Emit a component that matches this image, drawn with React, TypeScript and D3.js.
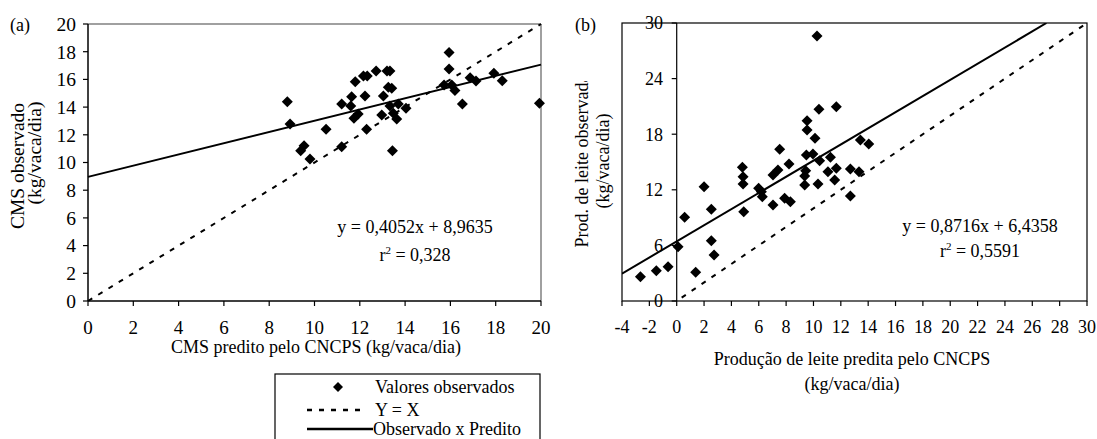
import React from "react";
import * as d3 from "d3";

// Panel (a): CMS predito (x) vs observado (y)
const cmsPred = [8.8, 8.92, 9.39, 9.54, 9.8, 10.51, 11.2, 11.2, 11.64, 11.6, 11.8, 11.74, 11.93, 12.16, 12.33, 12.23, 12.3, 12.72, 13.2, 13.33, 13.04, 12.97, 13.26, 13.41, 13.33, 13.7, 13.48, 13.63, 14.04, 13.44, 15.94, 15.94, 15.72, 16.06, 16.2, 16.53, 16.87, 17.13, 17.92, 18.29, 19.93];
const cmsObs = [14.39, 12.78, 10.85, 11.21, 10.25, 12.4, 14.22, 11.14, 14.75, 14.08, 15.83, 13.19, 13.5, 16.25, 16.25, 14.8, 12.4, 16.6, 16.6, 16.6, 14.8, 13.43, 15.43, 15.36, 14.08, 14.22, 13.55, 13.14, 13.91, 10.85, 17.95, 16.75, 15.6, 15.6, 15.19, 14.22, 16.12, 15.88, 16.44, 15.9, 14.27];

// Panel (b): Produção de leite predita (x) vs observada (y)
const leitePred = [-2.65, -1.49, -0.63, 0.1, 0.58, 1.39, 2.0, 2.53, 2.53, 2.73, 4.8, 4.85, 4.85, 4.9, 5.99, 6.19, 6.26, 7.04, 7.04, 7.4, 7.53, 8.21, 7.89, 8.31, 9.36, 9.36, 9.43, 9.48, 9.53, 9.53, 9.96, 10.11, 10.26, 10.4, 10.33, 10.45, 11.67, 11.06, 11.24, 11.55, 11.67, 12.7, 13.33, 12.7, 13.43, 14.04];
const leiteObs = [2.62, 3.27, 3.7, 5.86, 9.03, 3.1, 12.34, 9.89, 6.51, 4.96, 14.43, 13.41, 12.63, 9.64, 12.16, 11.8, 11.26, 10.36, 13.6, 14.14, 16.37, 14.78, 11.08, 10.72, 12.52, 13.49, 14.06, 15.75, 18.45, 19.46, 15.86, 17.55, 28.6, 20.68, 12.63, 15.14, 20.97, 13.95, 15.5, 13.06, 14.32, 14.24, 13.95, 11.33, 17.37, 16.94];

const ticksA = [0, 2, 4, 6, 8, 10, 12, 14, 16, 18, 20];
const ticksBX = [-4, -2, 0, 2, 4, 6, 8, 10, 12, 14, 16, 18, 20, 22, 24, 26, 28, 30];
const ticksBY = [0, 6, 12, 18, 24, 30];

const regA = { slope: 0.4052, intercept: 8.9635 };
const regB = { slope: 0.8716, intercept: 6.4358 };

const FONT = "Liberation Serif";

function diamond(cx: number, cy: number, r: number) {
  return `M${cx},${cy - r}L${cx + r},${cy}L${cx},${cy + r}L${cx - r},${cy}Z`;
}

export default function App() {
  // Panel (a) scales
  const xa = d3.scaleLinear().domain([0, 20]).range([88, 541]);
  const ya = d3.scaleLinear().domain([0, 20]).range([301, 24]);
  // Panel (b) scales
  const xb = d3.scaleLinear().domain([-4, 30]).range([622, 1087]);
  const yb = d3.scaleLinear().domain([0, 30]).range([301, 23]);

  const line = d3.line<[number, number]>();

  const regAPts: [number, number][] = [0, 20].map((x) => [xa(x), ya(regA.slope * x + regA.intercept)]);
  const idAPts: [number, number][] = [0, 20].map((x) => [xa(x), ya(x)]);
  const xEndB = (30 - regB.intercept) / regB.slope;
  const regBPts: [number, number][] = [-4, xEndB].map((x) => [xb(x), yb(regB.slope * x + regB.intercept)]);
  const idBPts: [number, number][] = [0, 30].map((x) => [xb(x), yb(x)]);

  const ts: React.CSSProperties = { fontFamily: FONT };

  return (
    <svg width={1097} height={439} style={{ position: "absolute", left: 0, top: 0, background: "#fff", fontFamily: FONT }}>
      <defs>
        <clipPath id="clipB">
          <rect x={622} y={23} width={465} height={278} />
        </clipPath>
        <clipPath id="clipYB">
          <rect x={560} y={81} width={60} height={260} />
        </clipPath>
      </defs>
      <rect x={0} y={0} width={1097} height={439} fill="#fff" />

      {/* ---------- Panel (a) ---------- */}
      <text style={ts} x={10} y={31} fontSize={18}>(a)</text>
      <line x1={88} y1={24} x2={541} y2={24} stroke="#808080" strokeWidth={1.5} />
      <line x1={541} y1={24} x2={541} y2={301} stroke="#808080" strokeWidth={1.5} />
      <line x1={88} y1={24} x2={88} y2={301} stroke="#000" strokeWidth={1.5} />
      <line x1={88} y1={301} x2={541} y2={301} stroke="#000" strokeWidth={1.5} />
      {ticksA.map((t) => (
        <g key={"ya" + t}>
          <line x1={83} x2={88} y1={ya(t)} y2={ya(t)} stroke="#000" strokeWidth={1.2} />
          <text style={ts} x={76} y={ya(t)} dy="0.35em" textAnchor="end" fontSize={19.5}>{t}</text>
        </g>
      ))}
      {ticksA.map((t) => (
        <g key={"xa" + t}>
          <line x1={xa(t)} x2={xa(t)} y1={301} y2={306} stroke="#000" strokeWidth={1.2} />
          <text style={ts} x={xa(t)} y={334} textAnchor="middle" fontSize={19}>{t}</text>
        </g>
      ))}
      <text style={ts} x={316} y={353} textAnchor="middle" fontSize={18}>CMS predito pelo CNCPS (kg/vaca/dia)</text>
      <text style={ts} transform={`translate(24,166) rotate(-90)`} textAnchor="middle" fontSize={19.5}>CMS observado</text>
      <text style={ts} transform={`translate(41,153) rotate(-90)`} textAnchor="middle" fontSize={19.5}>(kg/vaca/dia)</text>

      <path d={line(idAPts) || ""} stroke="#000" strokeWidth={2} strokeDasharray="5,7" fill="none" />
      <path d={line(regAPts) || ""} stroke="#000" strokeWidth={2} fill="none" />
      {cmsPred.map((x, i) => (
        <path key={"pa" + i} d={diamond(xa(x), ya(cmsObs[i]), 5.5)} fill="#000" />
      ))}
      <text style={ts} x={415} y={233} textAnchor="middle" fontSize={18}>y = 0,4052x + 8,9635</text>
      <text style={ts} x={415} y={261} textAnchor="middle" fontSize={18}>
        r<tspan dy={-7} fontSize={11}>2</tspan><tspan dy={7}> = 0,328</tspan>
      </text>

      {/* ---------- Panel (b) ---------- */}
      <text style={ts} x={575} y={31} fontSize={18}>(b)</text>
      <rect x={622} y={23} width={465} height={278} fill="none" stroke="#000" strokeWidth={1.2} />
      <line x1={xb(0)} x2={xb(0)} y1={23} y2={301} stroke="#000" strokeWidth={1.2} />
      {ticksBY.map((t) => (
        <g key={"yb" + t}>
          <line x1={xb(0) - 5} x2={xb(0)} y1={yb(t)} y2={yb(t)} stroke="#000" strokeWidth={1.2} />
          <text style={ts} x={663} y={yb(t)} dy="0.35em" textAnchor="end" fontSize={18}>{t}</text>
        </g>
      ))}
      {ticksBX.map((t) => (
        <g key={"xb" + t}>
          <line x1={xb(t)} x2={xb(t)} y1={301} y2={306} stroke="#000" strokeWidth={1.2} />
          <text style={ts} x={xb(t)} y={333} textAnchor="middle" fontSize={18}>{t}</text>
        </g>
      ))}
      <text style={ts} x={852} y={365} textAnchor="middle" fontSize={18}>Produção de leite predita pelo CNCPS</text>
      <text style={ts} x={852} y={390} textAnchor="middle" fontSize={18}>(kg/vaca/dia)</text>
      <g clipPath="url(#clipYB)">
        <text style={ts} transform={`translate(588,161) rotate(-90)`} textAnchor="middle" fontSize={18}>Prod. de leite observada</text>
      </g>
      <text style={ts} transform={`translate(609,161) rotate(-90)`} textAnchor="middle" fontSize={18}>(kg/vaca/dia)</text>

      <g clipPath="url(#clipB)">
        <path d={line(idBPts) || ""} stroke="#000" strokeWidth={2} strokeDasharray="5,7" strokeDashoffset={-6} fill="none" />
        <path d={line(regBPts) || ""} stroke="#000" strokeWidth={2} fill="none" />
      </g>
      {leitePred.map((x, i) => (
        <path key={"pb" + i} d={diamond(xb(x), yb(leiteObs[i]), 5.5)} fill="#000" />
      ))}
      <text style={ts} x={980} y={232} textAnchor="middle" fontSize={18}>y = 0,8716x + 6,4358</text>
      <text style={ts} x={980} y={257} textAnchor="middle" fontSize={18}>
        r<tspan dy={-7} fontSize={11}>2</tspan><tspan dy={7}> = 0,5591</tspan>
      </text>

      {/* ---------- Legend ---------- */}
      <rect x={275} y={374} width={265} height={80} fill="#fff" stroke="#000" strokeWidth={1.2} />
      <path d={diamond(338, 387, 5)} fill="#000" />
      <text style={ts} x={375} y={393} fontSize={18}>Valores observados</text>
      <line x1={307} x2={363} y1={410} y2={410} stroke="#000" strokeWidth={2.5} strokeDasharray="5,7" />
      <text style={ts} x={375} y={416} fontSize={18}>Y = X</text>
      <line x1={307} x2={373} y1={429} y2={429} stroke="#000" strokeWidth={2.5} />
      <text style={ts} x={373} y={435} fontSize={18}>Observado x Predito</text>
    </svg>
  );
}
